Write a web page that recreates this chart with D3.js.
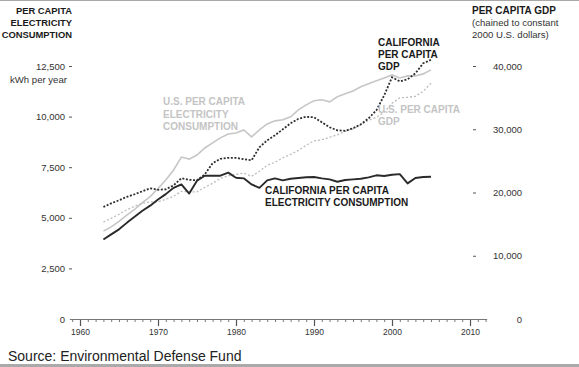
<!DOCTYPE html>
<html><head><meta charset="utf-8">
<script src="https://cdn.jsdelivr.net/npm/d3@7"></script>
<style>
html,body{margin:0;padding:0;background:#fff;}
svg{display:block;font-family:"Liberation Sans",Arial,Helvetica,sans-serif;}
</style></head><body>
<svg id="chart" width="579" height="367"></svg>
<script>
// ---- data ----
const years = [1963,1964,1965,1966,1967,1968,1969,1970,1971,1972,1973,1974,1975,1976,1977,1978,1979,1980,1981,1982,1983,1984,
               1985,1986,1987,1988,1989,1990,1991,1992,1993,1994,1995,1996,1997,1998,1999,2000,2001,2002,2003,2004,2005];
// kWh per year (left axis)
const caElectricity = [3930,4180,4430,4750,5050,5350,5600,5900,6170,6480,6650,6200,6830,7080,7080,7080,7230,6980,6950,6650,6480,6850,
                       6950,6850,6930,6965,7000,7015,6950,6900,6780,6865,6900,6930,7000,7100,7065,7130,7160,6700,6965,7015,7030];
const usElectricity = [4340,4550,4820,5130,5420,5750,6050,6450,6870,7360,8000,7900,8100,8450,8700,8950,9140,9190,9340,9000,9340,9640,
                       9790,9840,9990,10330,10580,10780,10830,10730,10980,11130,11270,11470,11620,11770,11910,12060,11910,12010,12010,12110,12310];
// chained 2000 U.S. dollars (right axis)
const caGdp = [17710,18290,18770,19320,19720,20190,20660,20430,20510,21140,22250,22010,21930,22880,24620,25330,25490,25490,25250,25090,27150,28250,
               29040,29990,30940,31650,31970,31890,31100,30310,29830,29750,30150,30780,31730,33000,35370,38210,37580,37900,38850,40430,40980];
const usGdp = [15340,15920,16550,17260,17820,18290,18530,18530,18930,19400,20190,20110,20110,20820,21450,22250,22640,22880,23040,22560,23350,24300,
               24780,25490,26040,26670,27460,28170,28330,28730,29120,29680,30070,30700,31420,31890,32680,34100,34970,35050,35210,36000,37270];

const xMajorTicks = [1960,1970,1980,1990,2000,2010];
const xMinorTicks = [1959,1960,1961,1962,1963,1964,1965,1966,1967,1968,1969,1970,1971,1972,1973,1974,1975,1976,1977,1978,1979,1980,1981,1982,1983,1984,1985,1986,1987,1988,1989,1990,1991,1992,1993,1994,1995,1996,1997,1998,1999,2000,2001,2002,2003,2004,2005,2006,2007,2008,2009,2010,2011,2012];
const leftTicks = [0,2500,5000,7500,10000,12500];
const rightTicks = [0,10000,20000,30000,40000];

const leftTitle = ["PER CAPITA","ELECTRICITY","CONSUMPTION"];
const leftUnit = "kWh per year";
const rightTitle = "PER CAPITA GDP";
const rightSub = ["(chained to constant","2000 U.S. dollars)"];
const labelUsElec = ["U.S. PER CAPITA","ELECTRICITY","CONSUMPTION"];
const labelCaGdp = ["CALIFORNIA","PER CAPITA","GDP"];
const labelUsGdp = ["U.S. PER CAPITA","GDP"];
const labelCaElec = ["CALIFORNIA PER CAPITA","ELECTRICITY CONSUMPTION"];
const sourceText = "Source: Environmental Defense Fund";

// ---- drawing ----
const svg = d3.select("#chart");
const W = 579, H = 367;
svg.append("rect").attr("width",W).attr("height",H).attr("fill","#fff");
// frame
svg.append("rect").attr("x",0).attr("y",0).attr("width",W).attr("height",1).attr("fill","#a8a8a8");
svg.append("rect").attr("x",0).attr("y",364).attr("width",W).attr("height",3).attr("fill","#aaaaaa");

const x = d3.scaleLinear().domain([1960,2010]).range([80,470]);
const yL = d3.scaleLinear().domain([0,12500]).range([319,66]);
const yR = d3.scaleLinear().domain([0,40000]).range([319,66]);
const axisY = 319;

// x axis
const gxMinor = svg.append("g").attr("transform",`translate(0,${axisY})`)
  .call(d3.axisBottom(x).tickValues(xMinorTicks).tickSize(3).tickFormat(""));
gxMinor.select(".domain").remove();
gxMinor.selectAll("line").attr("stroke","#777");
const gx = svg.append("g").attr("transform",`translate(0,${axisY})`)
  .call(d3.axisBottom(x).tickValues(xMajorTicks).tickSize(7).tickPadding(3).tickFormat(d3.format("d")));
gx.select(".domain").remove();
gx.selectAll("line").attr("stroke","#555").attr("stroke-width",1.2);
gx.selectAll("text").attr("font-size","8.5px").attr("fill","#333").attr("font-family",null);
svg.append("line").attr("x1",x(1958.7)).attr("x2",x(2012.2)).attr("y1",axisY+0.5).attr("y2",axisY+0.5)
  .attr("stroke","#777").attr("stroke-width",1);

// left axis
const gl = svg.append("g").attr("transform","translate(72,0)")
  .call(d3.axisLeft(yL).tickValues(leftTicks).tickSize(3).tickPadding(4).tickFormat(d3.format(",")));
gl.select(".domain").remove();
gl.selectAll(".tick").filter(d=>d===0).select("line").remove();
gl.selectAll("line").attr("stroke","#555");
gl.selectAll("text").attr("font-size","9.5px").attr("fill","#333").attr("font-family",null);

// right axis
const gr = svg.append("g").attr("transform","translate(473,0)")
  .call(d3.axisRight(yR).tickValues(rightTicks).tickSize(3).tickFormat(d3.format(",")));
gr.select(".domain").remove();
gr.selectAll(".tick").filter(d=>d===0).select("line").remove();
gr.selectAll("line").attr("stroke","#555");
gr.selectAll("text").attr("x",49).attr("text-anchor","end").attr("font-size","9.5px").attr("fill","#333").attr("font-family",null);

// lines
const lineL = vals => d3.line().x((d,i)=>x(years[i])).y(d=>yL(d))(vals);
const lineR = vals => d3.line().x((d,i)=>x(years[i])).y(d=>yR(d))(vals);

svg.append("path").attr("d",lineL(usElectricity)).attr("fill","none").attr("stroke","#c6c6c6").attr("stroke-width",1.6);
svg.append("path").attr("d",lineR(usGdp)).attr("fill","none").attr("stroke","#bcbcbc").attr("stroke-width",1.3).attr("stroke-dasharray","2,2");
svg.append("path").attr("d",lineR(caGdp)).attr("fill","none").attr("stroke","#2e2e2e").attr("stroke-width",1.8).attr("stroke-dasharray","2,1.6");
svg.append("path").attr("d",lineL(caElectricity)).attr("fill","none").attr("stroke","#2a2a2a").attr("stroke-width",1.9).attr("stroke-linejoin","round");

// text helper
function block(lines, x0, y0, dy, opts){
  const t = svg.append("text").attr("x",x0).attr("y",y0)
    .attr("font-size",opts.size||"10px").attr("font-weight",opts.weight||"bold")
    .attr("fill",opts.fill||"#1a1a1a").attr("text-anchor",opts.anchor||"start");
  lines.forEach((s,i)=>t.append("tspan").attr("x",x0).attr("y",y0+i*dy).text(s));
  return t;
}
block(leftTitle, 72, 13.6, 12.2, {anchor:"end", size:"9.4px"});
block([leftUnit], 67, 82.5, 12, {weight:"normal", size:"9.6px", anchor:"end", fill:"#333"});
block([rightTitle], 472, 13.6, 12, {});
block(rightSub, 472, 26.3, 11.7, {weight:"normal", size:"9.6px", fill:"#333"});

block(labelUsElec, 163, 105.3, 12.5, {fill:"#c4c4c4"});
block(labelCaGdp, 378, 45.9, 11.8, {});
block(labelUsGdp, 378, 112.9, 11.6, {fill:"#c4c4c4"});
block(labelCaElec, 265, 193.8, 12.6, {});

svg.append("text").attr("x",8).attr("y",361).attr("font-size","14px").attr("fill","#222").text(sourceText);
</script>
</body></html>
